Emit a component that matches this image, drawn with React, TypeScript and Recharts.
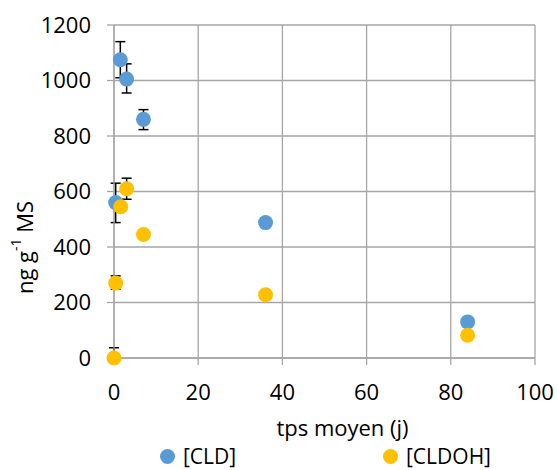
import React from 'react';
import { ScatterChart, Scatter, XAxis, YAxis, CartesianGrid, ErrorBar } from 'recharts';

// temps moyen (j) et concentrations (ng g-1 MS)
const cldX = [0.4, 1.5, 3, 7, 36, 84];
const cldY = [560, 1075, 1005, 860, 488, 130];
const cldErr: (number[] | null)[] = [[72, 70], [65, 65], [50, 55], [37, 35], null, null];

const cldohX = [0, 0.4, 1.6, 3, 7, 36, 84];
const cldohY = [0, 270, 545, 610, 445, 228, 82];
const cldohErr: (number[] | null)[] = [[0, 37], [22, 26], [15, 15], [38, 38], [8, 8], [7, 7], null];

const xTicks = [0, 20, 40, 60, 80, 100];
const yTicks = [0, 200, 400, 600, 800, 1000, 1200];

const seriesNames = ['[CLD]', '[CLDOH]'];
const seriesColors = ['#5B9BD5', '#FFC000'];

const FONT = '"Open Sans", "Noto Sans", sans-serif';
const FS = 22;

const toPoints = (xs: number[], ys: number[], errs: (number[] | null)[]) =>
  xs.map((x, i) => ({ x, y: ys[i], err: errs[i] }));

const cldData = toPoints(cldX, cldY, cldErr);
const cldohData = toPoints(cldohX, cldohY, cldohErr);

const dot = (color: string) => (props: any) => (
  <circle cx={props.cx} cy={props.cy} r={7.5} fill={color} />
);

const YLabel = (props: any) => {
  const { viewBox } = props;
  const cx = 24;
  const cy = viewBox.y + viewBox.height / 2 + 56;
  return (
    <text
      x={cx}
      y={cy}
      transform={`rotate(-90, ${cx}, ${cy})`}
      textAnchor="middle"
      dominantBaseline="central"
      fontFamily={FONT}
      fontSize={FS}
      fill="#000"
    >
      ng g<tspan dy={-9} fontSize={14}>-1</tspan>
      <tspan dy={9}> MS</tspan>
    </text>
  );
};

const XLabel = (props: any) => {
  const { viewBox } = props;
  return (
    <text
      x={viewBox.x + viewBox.width / 2 + 18}
      y={viewBox.y + 69}
      textAnchor="middle"
      dominantBaseline="central"
      fontFamily={FONT}
      fontSize={FS}
      fill="#000"
    >
      tps moyen (j)
    </text>
  );
};

const App: React.FC = () => {
  return (
    <div style={{ position: 'absolute', left: 0, top: 0, width: 557, height: 470, background: '#fff' }}>
      <ScatterChart width={557} height={470} margin={{ top: 25, right: 22, left: 0, bottom: 0 }}>
        <CartesianGrid stroke="#a6a6a6" strokeWidth={1.3} />
        <XAxis
          type="number"
          dataKey="x"
          domain={[0, 100]}
          ticks={xTicks}
          height={112}
          stroke="#a6a6a6"
          strokeWidth={1.3}
          tickSize={7}
          tickMargin={19}
          tick={{ fill: '#000', fontSize: FS, fontFamily: FONT }}
          label={<XLabel />}
        />
        <YAxis
          type="number"
          dataKey="y"
          domain={[0, 1200]}
          ticks={yTicks}
          width={114}
          stroke="#a6a6a6"
          strokeWidth={1.3}
          tickSize={7}
          tickMargin={16}
          tick={{ fill: '#000', fontSize: FS, fontFamily: FONT }}
          label={<YLabel />}
        />
        <Scatter name={seriesNames[0]} data={cldData} fill={seriesColors[0]} shape={dot(seriesColors[0])} isAnimationActive={false}>
          <ErrorBar dataKey="err" direction="y" width={5} stroke="#000" strokeWidth={1.5} />
        </Scatter>
        <Scatter name={seriesNames[1]} data={cldohData} fill={seriesColors[1]} shape={dot(seriesColors[1])} isAnimationActive={false}>
          <ErrorBar dataKey="err" direction="y" width={5} stroke="#000" strokeWidth={1.5} />
        </Scatter>
      </ScatterChart>
      <div style={{ position: 'absolute', top: 444, left: 0, width: 557, height: 24, fontFamily: FONT, fontSize: 21, lineHeight: '24px' }}>
        {seriesNames.map((name, i) => (
          <div
            key={name}
            style={{ position: 'absolute', left: i === 0 ? 160 : 383, top: 0, display: 'flex', alignItems: 'center', height: 24 }}
          >
            <span style={{ display: 'inline-block', width: 15, height: 15, borderRadius: 8, background: seriesColors[i], marginRight: 8 }} />
            <span>{name}</span>
          </div>
        ))}
      </div>
    </div>
  );
};

export default App;
